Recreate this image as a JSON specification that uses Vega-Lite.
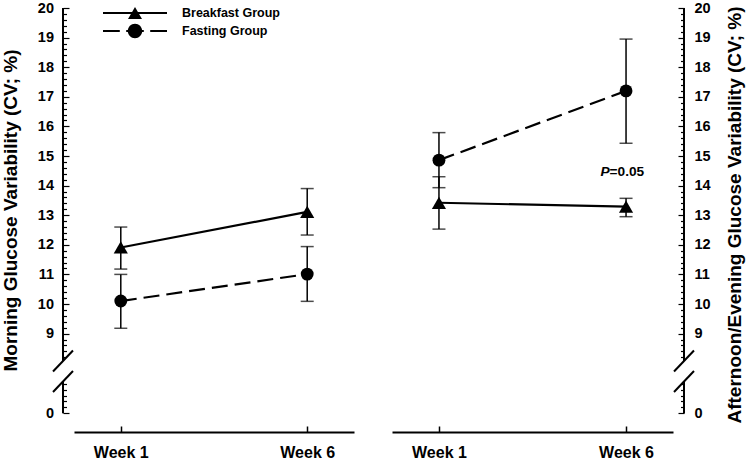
{
  "$schema": "https://vega.github.io/schema/vega-lite/v6.json",
  "width": 621,
  "height": 424,
  "autosize": {"type": "none"},
  "padding": {"left": 63, "top": 8, "right": 62, "bottom": 27},
  "background": "white",
  "config": {
    "view": {"stroke": null},
    "font": "Liberation Sans",
    "axis": {"labelFlush": false, "labelOverlap": false, "grid": false}
  },
  "datasets": {
    "glucose": [
      {"period": "Morning", "group": "Breakfast Group", "week": 1, "cv": 11.91, "lo": 11.18, "hi": 12.6},
      {"period": "Morning", "group": "Breakfast Group", "week": 6, "cv": 13.11, "lo": 12.33, "hi": 13.9},
      {"period": "Morning", "group": "Fasting Group", "week": 1, "cv": 10.1, "lo": 9.18, "hi": 11.0},
      {"period": "Morning", "group": "Fasting Group", "week": 6, "cv": 11.01, "lo": 10.09, "hi": 11.94},
      {"period": "Afternoon", "group": "Breakfast Group", "week": 1, "cv": 13.42, "lo": 12.53, "hi": 14.3},
      {"period": "Afternoon", "group": "Breakfast Group", "week": 6, "cv": 13.29, "lo": 12.95, "hi": 13.57},
      {"period": "Afternoon", "group": "Fasting Group", "week": 1, "cv": 14.86, "lo": 13.93, "hi": 15.79},
      {"period": "Afternoon", "group": "Fasting Group", "week": 6, "cv": 17.2, "lo": 15.43, "hi": 18.95}
    ]
  },
  "layer": [
    {
      "data": {"name": "glucose"},
      "transform": [{"filter": "datum.period == 'Morning'"}],
      "layer": [
        {
          "transform": [{"filter": "datum.group == 'Breakfast Group'"}],
          "mark": {"type": "line", "color": "black", "strokeWidth": 2.2},
          "encoding": {
            "x": {"field": "week", "type": "quantitative",
              "scale": {"domain": [-0.255, 7.255], "range": [11, 291], "nice": false, "zero": false},
              "axis": {"orient": "bottom", "values": [1, 6], "labelExpr": "'Week ' + datum.value", "title": null,
                "domainColor": "black", "domainWidth": 2, "tickColor": "black", "tickWidth": 1.5, "tickSize": -6,
                "labelPadding": 18, "labelFont": "Liberation Sans", "labelFontSize": 16, "labelFontWeight": "bold", "labelColor": "black", "labelOverlap": false, "labelFlush": false}},
            "y": {"field": "cv", "type": "quantitative",
              "scale": {"domain": [5.676, 20], "nice": false, "zero": false},
              "axis": {"orient": "left", "domain": false, "labelOverlap": false, "labelFlush": false, "labelBound": false, "tickCount": 1000,
                "values": [6.307, 6.507, 6.707, 6.907, 7.107, 7.307, 8.2, 8.4, 8.6, 8.8, 9, 9.2, 9.4, 9.6, 9.8, 10, 10.2, 10.4, 10.6, 10.8, 11, 11.2, 11.4, 11.6, 11.8, 12, 12.2, 12.4, 12.6, 12.8, 13, 13.2, 13.4, 13.6, 13.8, 14, 14.2, 14.4, 14.6, 14.8, 15, 15.2, 15.4, 15.6, 15.8, 16, 16.2, 16.4, 16.6, 16.8, 17, 17.2, 17.4, 17.6, 17.8, 18, 18.2, 18.4, 18.6, 18.8, 19, 19.2, 19.4, 19.6, 19.8, 20],
                "tickColor": "black", "tickWidth": 1.2,
                "tickSize": {"condition": {"test": "datum.value < 6.4 || abs(datum.value - round(datum.value)) < 0.01", "value": -6}, "value": -3.5},
                "labelExpr": "datum.value < 6.4 ? '0' : (abs(datum.value - round(datum.value)) < 0.01 ? '' + round(datum.value) : '')",
                "labelPadding": 15.5, "labelFont": "Liberation Sans", "labelFontSize": 14.5, "labelFontWeight": "bold", "labelColor": "black",
                "title": "Morning Glucose Variability (CV; %)", "titleFont": "Liberation Sans", "titleFontSize": 19, "titleFontWeight": "bold", "titleColor": "black",
                "titleAngle": 270, "titleAlign": "center", "titleBaseline": "bottom", "titleX": -42.5, "titleY": 202}}
          }
        },
        {
          "transform": [{"filter": "datum.group == 'Fasting Group'"}],
          "mark": {"type": "line", "color": "black", "strokeWidth": 2.2, "strokeDash": [16, 7]},
          "encoding": {"x": {"field": "week", "type": "quantitative"}, "y": {"field": "cv", "type": "quantitative"}}
        },
        {
          "mark": {"type": "rule", "color": "black", "strokeWidth": 1.5},
          "encoding": {
            "x": {"field": "week", "type": "quantitative"},
            "y": {"field": "lo", "type": "quantitative"},
            "y2": {"field": "hi"}
          }
        },
        {
          "mark": {"type": "tick", "orient": "horizontal", "color": "black", "size": 13, "thickness": 1.5},
          "encoding": {"x": {"field": "week", "type": "quantitative"}, "y": {"field": "lo", "type": "quantitative"}}
        },
        {
          "mark": {"type": "tick", "orient": "horizontal", "color": "black", "size": 13, "thickness": 1.5},
          "encoding": {"x": {"field": "week", "type": "quantitative"}, "y": {"field": "hi", "type": "quantitative"}}
        },
        {
          "transform": [{"filter": "datum.group == 'Breakfast Group'"}],
          "mark": {"type": "point", "shape": "triangle-up", "filled": true, "color": "black", "size": 200, "opacity": 1},
          "encoding": {"x": {"field": "week", "type": "quantitative"}, "y": {"field": "cv", "type": "quantitative"}}
        },
        {
          "transform": [{"filter": "datum.group == 'Fasting Group'"}],
          "mark": {"type": "point", "shape": "circle", "filled": true, "color": "black", "size": 165, "opacity": 1},
          "encoding": {"x": {"field": "week", "type": "quantitative"}, "y": {"field": "cv", "type": "quantitative"}}
        },
        {
          "mark": {"type": "point", "filled": true, "color": "black", "opacity": 0, "size": 256},
          "encoding": {
            "x": {"field": "week", "type": "quantitative"},
            "y": {"field": "cv", "type": "quantitative"},
            "shape": {"field": "group", "type": "nominal",
              "scale": {"domain": ["Breakfast Group", "Fasting Group"],
                "range": ["M-4,-0.125H4V0.125H-4Z M0,-0.76L0.875,0.76L-0.875,0.76Z",
                          "M-4,-0.14H-1.9V0.14H-4Z M-1.1,-0.14H1.1V0.14H-1.1Z M1.9,-0.14H4V0.14H1.9Z M-0.9,0A0.9,0.9,0,1,1,0.9,0A0.9,0.9,0,1,1,-0.9,0Z"]},
              "legend": {"title": null, "orient": "none", "legendX": 64, "legendY": -3, "padding": 0,
                "symbolSize": 256, "symbolOpacity": 1, "symbolFillColor": "black", "symbolStrokeWidth": 0, "symbolStrokeColor": "black",
                "labelFont": "Liberation Sans", "labelFontSize": 12.5, "labelFontWeight": "bold", "labelColor": "black",
                "labelOffset": 39, "rowPadding": 3, "labelBaseline": "middle"}}
          }
        },
        {
          "data": {"values": [{}]},
          "mark": {"type": "rule", "color": "black", "strokeWidth": 2},
          "encoding": {"x": {"datum": -0.55, "type": "quantitative"}, "y": {"datum": 20, "type": "quantitative"}, "y2": {"datum": 8.074}}
        },
        {
          "data": {"values": [{}]},
          "mark": {"type": "rule", "color": "black", "strokeWidth": 2},
          "encoding": {"x": {"datum": -0.55, "type": "quantitative"}, "y": {"datum": 7.382, "type": "quantitative"}, "y2": {"datum": 6.307}}
        },
        {
          "data": {"values": [{}]},
          "mark": {"type": "rule", "color": "black", "strokeWidth": 2},
          "encoding": {"x": {"datum": -0.818, "type": "quantitative"}, "x2": {"datum": -0.282}, "y": {"datum": 7.719, "type": "quantitative"}, "y2": {"datum": 8.429}}
        },
        {
          "data": {"values": [{}]},
          "mark": {"type": "rule", "color": "black", "strokeWidth": 2},
          "encoding": {"x": {"datum": -0.818, "type": "quantitative"}, "x2": {"datum": -0.282}, "y": {"datum": 7.027, "type": "quantitative"}, "y2": {"datum": 7.737}}
        }
      ]
    },
    {
      "data": {"name": "glucose"},
      "transform": [{"filter": "datum.period == 'Afternoon'"}],
      "layer": [
        {
          "transform": [{"filter": "datum.group == 'Breakfast Group'"}],
          "mark": {"type": "line", "color": "black", "strokeWidth": 2.2},
          "encoding": {
            "x": {"field": "week", "type": "quantitative",
              "scale": {"domain": [-0.255, 7.255], "range": [329, 610], "nice": false, "zero": false},
              "axis": {"orient": "bottom", "values": [1, 6], "labelExpr": "'Week ' + datum.value", "title": null,
                "domainColor": "black", "domainWidth": 2, "tickColor": "black", "tickWidth": 1.5, "tickSize": -6,
                "labelPadding": 18, "labelFont": "Liberation Sans", "labelFontSize": 16, "labelFontWeight": "bold", "labelColor": "black", "labelOverlap": false, "labelFlush": false}},
            "y": {"field": "cv", "type": "quantitative",
              "scale": {"domain": [5.676, 20], "nice": false, "zero": false},
              "axis": {"orient": "right", "domain": false, "labelOverlap": false, "labelFlush": false, "labelBound": false, "tickCount": 1000,
                "values": [6.307, 6.507, 6.707, 6.907, 7.107, 7.307, 8.2, 8.4, 8.6, 8.8, 9, 9.2, 9.4, 9.6, 9.8, 10, 10.2, 10.4, 10.6, 10.8, 11, 11.2, 11.4, 11.6, 11.8, 12, 12.2, 12.4, 12.6, 12.8, 13, 13.2, 13.4, 13.6, 13.8, 14, 14.2, 14.4, 14.6, 14.8, 15, 15.2, 15.4, 15.6, 15.8, 16, 16.2, 16.4, 16.6, 16.8, 17, 17.2, 17.4, 17.6, 17.8, 18, 18.2, 18.4, 18.6, 18.8, 19, 19.2, 19.4, 19.6, 19.8, 20],
                "tickColor": "black", "tickWidth": 1.2,
                "tickSize": {"condition": {"test": "datum.value < 6.4 || abs(datum.value - round(datum.value)) < 0.01", "value": -6}, "value": -3.5},
                "labelExpr": "datum.value < 6.4 ? '0' : (abs(datum.value - round(datum.value)) < 0.01 ? '' + round(datum.value) : '')",
                "labelPadding": 16, "labelFont": "Liberation Sans", "labelFontSize": 14.5, "labelFontWeight": "bold", "labelColor": "black",
                "title": "Afternoon/Evening Glucose Variability (CV; %)", "titleFont": "Liberation Sans", "titleFontSize": 19, "titleFontWeight": "bold", "titleColor": "black",
                "titleAngle": 270, "titleAlign": "center", "titleBaseline": "top", "titleX": 41, "titleY": 206.5}}
          }
        },
        {
          "transform": [{"filter": "datum.group == 'Fasting Group'"}],
          "mark": {"type": "line", "color": "black", "strokeWidth": 2.2, "strokeDash": [16, 7]},
          "encoding": {"x": {"field": "week", "type": "quantitative"}, "y": {"field": "cv", "type": "quantitative"}}
        },
        {
          "mark": {"type": "rule", "color": "black", "strokeWidth": 1.5},
          "encoding": {
            "x": {"field": "week", "type": "quantitative"},
            "y": {"field": "lo", "type": "quantitative"},
            "y2": {"field": "hi"}
          }
        },
        {
          "mark": {"type": "tick", "orient": "horizontal", "color": "black", "size": 13, "thickness": 1.5},
          "encoding": {"x": {"field": "week", "type": "quantitative"}, "y": {"field": "lo", "type": "quantitative"}}
        },
        {
          "mark": {"type": "tick", "orient": "horizontal", "color": "black", "size": 13, "thickness": 1.5},
          "encoding": {"x": {"field": "week", "type": "quantitative"}, "y": {"field": "hi", "type": "quantitative"}}
        },
        {
          "transform": [{"filter": "datum.group == 'Breakfast Group'"}],
          "mark": {"type": "point", "shape": "triangle-up", "filled": true, "color": "black", "size": 200, "opacity": 1},
          "encoding": {"x": {"field": "week", "type": "quantitative"}, "y": {"field": "cv", "type": "quantitative"}}
        },
        {
          "transform": [{"filter": "datum.group == 'Fasting Group'"}],
          "mark": {"type": "point", "shape": "circle", "filled": true, "color": "black", "size": 165, "opacity": 1},
          "encoding": {"x": {"field": "week", "type": "quantitative"}, "y": {"field": "cv", "type": "quantitative"}}
        },
        {
          "data": {"values": [{}]},
          "mark": {"type": "text", "text": "P", "font": "Liberation Sans", "fontSize": 13.7, "fontWeight": "bold", "fontStyle": "italic", "align": "right", "baseline": "middle", "dx": -16.5, "color": "black"},
          "encoding": {"x": {"datum": 6, "type": "quantitative"}, "y": {"datum": 14.47, "type": "quantitative"}}
        },
        {
          "data": {"values": [{}]},
          "mark": {"type": "text", "text": "=0.05", "font": "Liberation Sans", "fontSize": 13.7, "fontWeight": "bold", "align": "left", "baseline": "middle", "dx": -16.5, "color": "black"},
          "encoding": {"x": {"datum": 6, "type": "quantitative"}, "y": {"datum": 14.47, "type": "quantitative"}}
        },
        {
          "data": {"values": [{}]},
          "mark": {"type": "rule", "color": "black", "strokeWidth": 2},
          "encoding": {"x": {"datum": 7.549, "type": "quantitative"}, "y": {"datum": 20, "type": "quantitative"}, "y2": {"datum": 8.074}}
        },
        {
          "data": {"values": [{}]},
          "mark": {"type": "rule", "color": "black", "strokeWidth": 2},
          "encoding": {"x": {"datum": 7.549, "type": "quantitative"}, "y": {"datum": 7.382, "type": "quantitative"}, "y2": {"datum": 6.307}}
        },
        {
          "data": {"values": [{}]},
          "mark": {"type": "rule", "color": "black", "strokeWidth": 2},
          "encoding": {"x": {"datum": 7.282, "type": "quantitative"}, "x2": {"datum": 7.816}, "y": {"datum": 7.719, "type": "quantitative"}, "y2": {"datum": 8.429}}
        },
        {
          "data": {"values": [{}]},
          "mark": {"type": "rule", "color": "black", "strokeWidth": 2},
          "encoding": {"x": {"datum": 7.282, "type": "quantitative"}, "x2": {"datum": 7.816}, "y": {"datum": 7.027, "type": "quantitative"}, "y2": {"datum": 7.737}}
        }
      ]
    }
  ],
  "resolve": {"scale": {"x": "independent", "y": "independent"}, "axis": {"x": "independent", "y": "independent"}}
}
